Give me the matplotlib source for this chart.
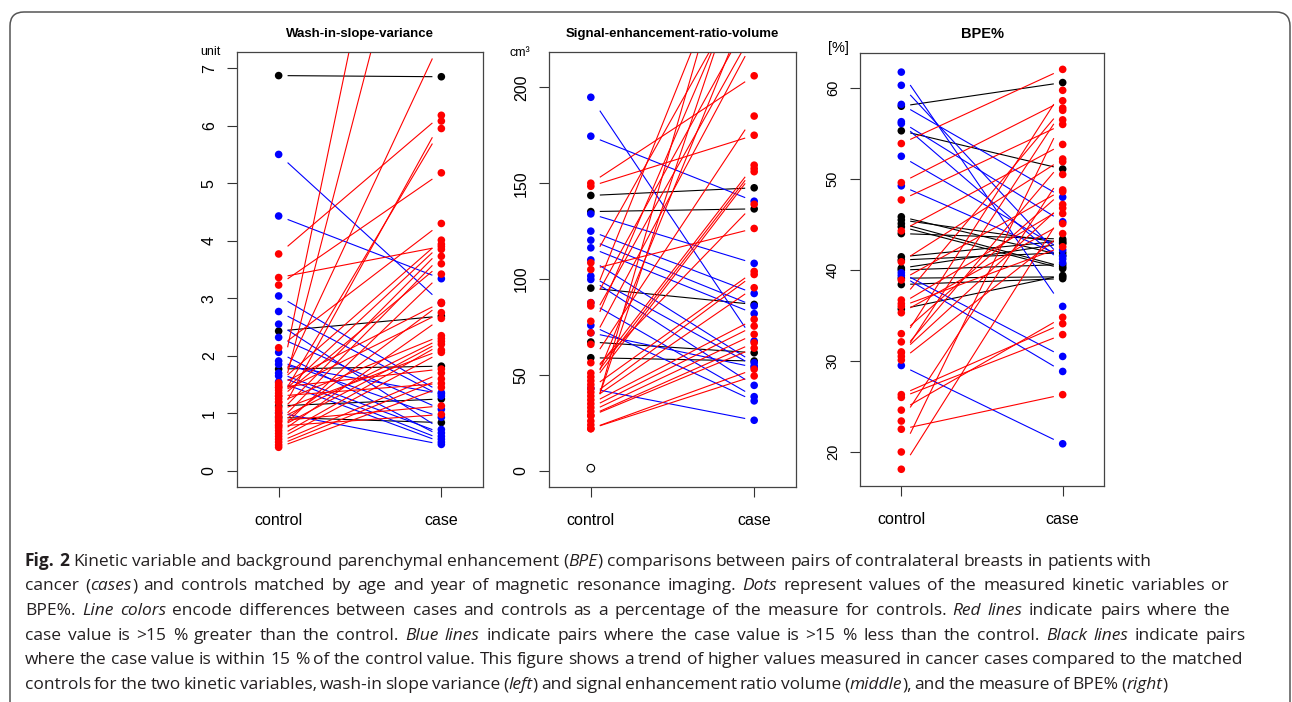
import re
import matplotlib
matplotlib.use("Agg")
import matplotlib.pyplot as plt
from matplotlib.patches import FancyBboxPatch
from matplotlib.transforms import IdentityTransform

W, H = 1292, 702

# paired values, control -> case (cases above the axis limit run off the top)
wash_control = [6.87, 2.43, 1.77, 1.13, 0.93,
                5.50, 4.43, 3.04, 2.77, 2.55, 2.32, 2.06, 1.91, 1.85, 1.70, 1.65, 1.55, 1.01,
                3.77, 3.36, 3.23, 2.14, 1.40, 1.10, 1.45, 0.95, 1.20, 1.53, 1.30, 1.00, 0.85,
                1.25, 0.70, 1.49, 0.80, 1.35, 0.65, 1.19, 0.90, 0.75, 0.60, 1.05, 0.55, 1.45,
                0.50, 0.45, 1.30, 0.41, 0.87, 0.78]
wash_case = [6.85, 2.69, 1.82, 1.25, 0.84,
             2.92, 3.34, 1.36, 1.30, 0.72, 1.07, 0.60, 0.93, 1.34, 0.66, 0.55, 0.50, 0.46,
             6.18, 3.90, 5.18, 4.30, 15.0, 12.0, 7.5, 6.08, 5.95, 4.01, 3.94, 3.85, 3.73,
             3.60, 3.42, 2.93, 2.91, 2.75, 2.65, 2.35, 2.30, 2.25, 2.20, 2.10, 2.06, 1.77,
             1.70, 1.60, 1.52, 1.45, 1.13, 0.98]

ser_control = [143.6, 135.2, 95.3, 67.2, 59.0,
               194.8, 174.5, 134.0, 125.0, 120.3, 116.3, 110.0, 101.6, 99.8, 87.7, 75.9, 72.0, 43.0,
               150.0, 148.4, 108.5, 105.0, 87.7, 86.0, 78.0, 72.0, 66.0, 56.4, 51.0, 49.0, 47.0,
               45.0, 43.0, 41.0, 39.0, 37.0, 35.0, 33.0, 31.0, 29.0, 28.6, 24.0, 22.0, 22.0, 26.0]
ser_case = [147.6, 136.6, 86.8, 61.6, 57.3,
            67.7, 140.6, 108.2, 92.5, 86.0, 82.0, 56.4, 54.7, 44.6, 38.7, 36.5, 54.0, 26.4,
            206.0, 175.0, 260.0, 126.4, 300.0, 240.0, 230.0, 270.0, 225.0, 185.0, 139.0, 159.4, 157.6,
            156.0, 104.0, 250.0, 102.4, 95.5, 79.0, 75.5, 71.2, 66.8, 64.0, 320.0, 53.0, 49.5, 280.0]
ser_control_unpaired = [1.4]

bpe_control = [58.0, 55.3, 45.85, 45.5, 45.1, 44.75, 44.0, 41.45, 41.1, 40.2, 40.0, 39.1, 38.4, 35.7,
               61.75, 60.3, 58.2, 56.3, 56.1, 52.5, 49.25, 39.7, 39.4, 29.5,
               53.9, 49.6, 47.7, 44.3, 40.9, 38.9, 36.7, 36.3, 35.3, 32.1, 31.0, 30.9, 30.5,
               30.1, 26.3, 26.0, 24.6, 23.4, 22.5, 20.0, 18.1, 36.0, 33.0]
bpe_case = [60.6, 51.1, 41.6, 43.0, 40.35, 40.15, 43.4, 43.2, 41.9, 42.9, 40.6, 39.25, 39.05, 39.4,
            36.0, 41.2, 48.0, 45.3, 40.8, 42.2, 41.5, 30.5, 28.85, 20.9,
            62.05, 58.6, 56.0, 53.8, 52.2, 48.8, 57.8, 46.8, 45.1, 59.75, 51.9, 47.2, 57.55,
            44.0, 34.1, 32.9, 34.8, 50.5, 26.3, 56.5, 46.2, 42.55, 48.6]

group_labels = ["control", "case"]


def pair_color(c, k):
    if k > 1.15 * c:
        return "#ff0000"
    if k < 0.85 * c:
        return "#0000ff"
    return "black"


fig = plt.figure(figsize=(W / 100, H / 100), dpi=100)
plt.rcParams["font.family"] = ["Liberation Sans", "DejaVu Sans"]


def panel(box, control, case, ylim, yticks, title, unit, tick_fs=11.5, title_fs=9.5,
          unit_fs=9, unit_xy=(0, 0), unpaired=()):
    left, right, top, bottom = box
    ax = fig.add_axes([left / W, 1 - bottom / H, (right - left) / W, (bottom - top) / H])
    d = 0.055
    cols = [pair_color(c, k) for c, k in zip(control, case)]
    for c, k, col in zip(control, case, cols):
        ax.plot([1 + d, 2 - d], [c + d * (k - c), k - d * (k - c)], color=col, lw=0.8,
                solid_capstyle="butt", zorder=2)
    ax.scatter([1] * len(control), control, s=30, c=cols, edgecolors="none", zorder=3)
    ax.scatter([2] * len(case), case, s=30, c=cols, edgecolors="none", zorder=3)
    if unpaired:
        ax.scatter([1] * len(unpaired), unpaired, s=30, facecolors="none",
                   edgecolors="black", linewidths=0.8, zorder=3)
    ax.set_xlim(0.744, 2.256)
    ax.set_ylim(*ylim)
    ax.set_xticks([1, 2])
    ax.set_xticklabels(group_labels, fontsize=11.5)
    ax.set_yticks(yticks)
    ax.set_yticklabels([str(t) for t in yticks], fontsize=tick_fs, rotation=90, va="center")
    ax.tick_params(direction="out", length=7.5, width=0.8, color="#333333")
    ax.tick_params(axis="x", pad=11)
    ax.tick_params(axis="y", pad=7)
    for sp in ax.spines.values():
        sp.set_color("#444444")
        sp.set_linewidth(0.9)
    fig.text((left + right) / 2 / W, 1 - 34 / H, title, fontsize=title_fs, weight="bold",
             ha="center", va="center")
    fig.text(unit_xy[0] / W, 1 - unit_xy[1] / H, unit, fontsize=unit_fs, ha="center",
             va="baseline")
    return ax


panel((237, 483, 52, 487), wash_control, wash_case, (-0.28, 7.28), list(range(8)),
      "Wash-in-slope-variance", "unit", unit_xy=(210, 55))
panel((549, 796, 52, 487), ser_control, ser_case, (-8.4, 218.4), [0, 50, 100, 150, 200],
      "Signal-enhancement-ratio-volume", "cm³", unit_xy=(520, 56),
      unpaired=ser_control_unpaired)
panel((860, 1104, 53, 486), bpe_control, bpe_case, (16.26, 63.85), [20, 30, 40, 50, 60],
      "BPE%", "[%]", tick_fs=10.5, title_fs=10.5, unit_fs=10.5, unit_xy=(838, 52))

# caption frame
frame = FancyBboxPatch((10, -30), 1280, 690 + 30, boxstyle="round,pad=0,rounding_size=14",
                       transform=IdentityTransform(), facecolor="none", edgecolor="#555555",
                       linewidth=1.1, figure=fig)
fig.patches.append(frame)

caption = [
    [("Fig. 2", "b"), (" Kinetic variable and background parenchymal enhancement (", "n"), ("BPE", "i"),
     (") comparisons between pairs of contralateral breasts in patients with", "n")],
    [("cancer (", "n"), ("cases", "i"),
     (") and controls matched by age and year of magnetic resonance imaging. ", "n"), ("Dots", "i"),
     (" represent values of the measured kinetic variables or", "n")],
    [("BPE%. ", "n"), ("Line colors", "i"),
     (" encode differences between cases and controls as a percentage of the measure for controls. ", "n"),
     ("Red lines", "i"), (" indicate pairs where the", "n")],
    [("case value is >15 % greater than the control. ", "n"), ("Blue lines", "i"),
     (" indicate pairs where the case value is >15 % less than the control. ", "n"),
     ("Black lines", "i"), (" indicate pairs", "n")],
    [("where the case value is within 15 % of the control value. This figure shows a trend of higher "
      "values measured in cancer cases compared to the matched", "n")],
    [("controls for the two kinetic variables, wash-in slope variance (", "n"), ("left", "i"),
     (") and signal enhancement ratio volume (", "n"), ("middle", "i"),
     ("), and the measure of BPE% (", "n"), ("right", "i"), (")", "n")],
]
baselines = [565.6, 590.3, 615, 639.7, 664.3, 689]
line_ends = [1152, 1238, 1232, 1262, 1243, 1110]
x_start = 25
renderer = fig.canvas.get_renderer()
cap_font = ["Open Sans", "DejaVu Sans"]
cap_size = 12.5


def style_kw(style, size):
    return dict(fontsize=size, family=cap_font,
                weight="bold" if style == "b" else "normal",
                style="italic" if style == "i" else "normal")


def width(txt, style, size):
    kw = style_kw(style, size)
    a = fig.text(0, 0, "|" + txt + "|", **kw)
    b = fig.text(0, 0, "||", **kw)
    w = a.get_window_extent(renderer).width - b.get_window_extent(renderer).width
    a.remove()
    b.remove()
    return w


def tokens(line):
    out = []
    for txt, style in line:
        for tok in re.split(r"( )", txt):
            if tok:
                out.append((tok, style))
    return out


# word gaps nudged a little per line towards the reference line ends
for line, yb, end in zip(caption, baselines, line_ends):
    toks = tokens(line)
    widths = [width(t, s, cap_size) for t, s in toks]
    n_space = sum(1 for t, _ in toks if t == " ")
    extra = (end - x_start - sum(widths)) / max(n_space, 1)
    extra = min(max(extra, -1.5), 2.0)
    x = x_start
    for (t, s), w in zip(toks, widths):
        if t != " ":
            fig.text(x / W, 1 - yb / H, t, ha="left", va="baseline", color="#231f20",
                     **style_kw(s, cap_size))
            x += w
        else:
            x += w + extra

fig.savefig("out.png", dpi=100)
